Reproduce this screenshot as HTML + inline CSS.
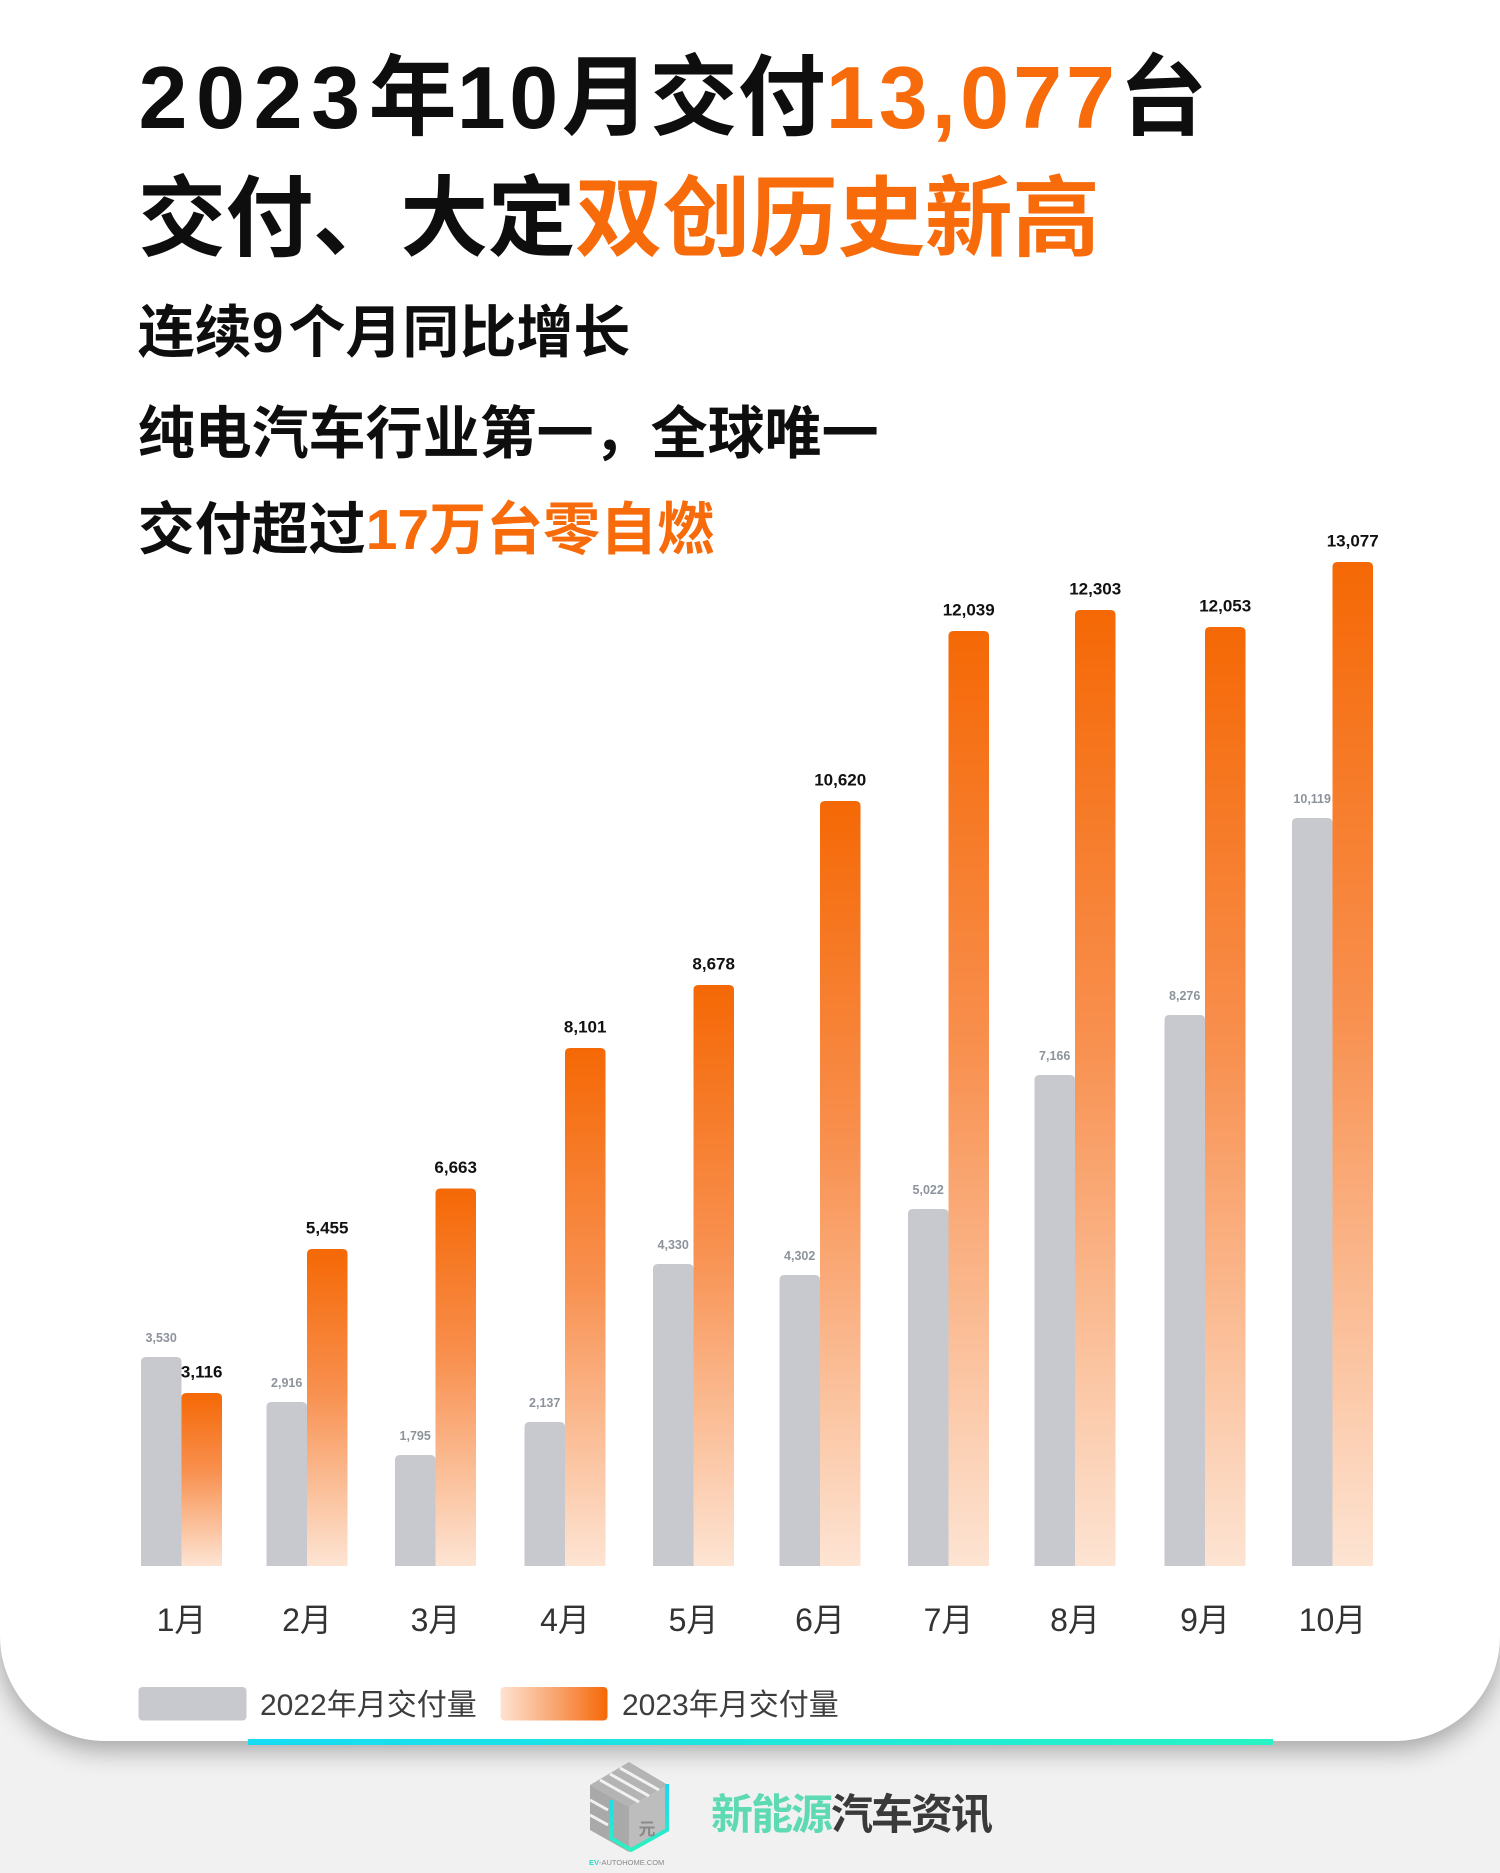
<!DOCTYPE html>
<html>
<head>
<meta charset="utf-8">
<style>
  html,body{margin:0;padding:0;}
  body{width:1500px;height:1873px;background:#f1f1f1;position:relative;overflow:hidden;
       font-family:"Liberation Sans","Noto Sans CJK SC",sans-serif;}
  .card{position:absolute;left:0;top:0;width:1500px;height:1741px;background:#fff;
        border-radius:0 0 105px 105px;box-shadow:0 9px 26px rgba(0,0,0,0.33);}
  .line{position:absolute;white-space:nowrap;font-family:"Liberation Sans","Noto Sans CJK SC",sans-serif;
        font-weight:700;color:#0e0e0e;}
  .l1{left:138.5px;top:53.5px;font-size:88px;line-height:88px;}
  .l2{left:138px;top:174.5px;font-size:88px;line-height:88px;letter-spacing:-0.6px;}
  .l3{left:137.7px;top:304.7px;font-size:57px;line-height:57px;}
  .l4{left:137.7px;top:405.7px;font-size:57px;line-height:57px;}
  .l5{left:137.7px;top:501.7px;font-size:57px;line-height:57px;}
  .o{color:#f76b0b;}
  .bar{position:absolute;left:248px;top:1739px;width:1025px;height:6px;
       background:linear-gradient(90deg,#16dbf3,#27f3c4);}
  svg{position:absolute;left:0;top:0;}
</style>
</head>
<body>
<div class="card"></div>

<div class="line l1"><span style="letter-spacing:8.6px">2023</span>年<span style="letter-spacing:3.6px">10</span>月交付<span class="o" style="letter-spacing:4px">13,077</span>台</div>
<div class="line l2">交付、大定<span class="o">双创历史新高</span></div>
<div class="line l3">连续<span style="letter-spacing:5px">9</span>个月同比增长</div>
<div class="line l4">纯电汽车行业第一，全球唯一</div>
<div class="line l5">交付超过<span class="o">17万台零自燃</span></div>

<div class="bar"></div>

<svg width="1500" height="1873" viewBox="0 0 1500 1873" xmlns="http://www.w3.org/2000/svg">
  <defs>
    <linearGradient id="og" x1="0" y1="0" x2="0" y2="1">
      <stop offset="0" stop-color="#f56805"/>
      <stop offset="0.45" stop-color="#f8904f"/>
      <stop offset="1" stop-color="#fde4d3"/>
    </linearGradient>
    <linearGradient id="lg" x1="0" y1="0" x2="1" y2="0">
      <stop offset="0" stop-color="#fde3d1"/>
      <stop offset="0.55" stop-color="#f9a068"/>
      <stop offset="1" stop-color="#f56805"/>
    </linearGradient>
    <linearGradient id="cg" x1="0" y1="0" x2="0" y2="1">
      <stop offset="0" stop-color="#18d8f4"/>
      <stop offset="1" stop-color="#2ef0c0"/>
    </linearGradient>
  </defs>

  <!-- gray bars (2022) -->
  <g fill="#c8c9ce">
    <path d="M141,1566 V1362 Q141,1357 146,1357 H176.5 Q181.5,1357 181.5,1362 V1566 Z"/>
    <path d="M266.5,1566 V1407 Q266.5,1402 271.5,1402 H302 Q307,1402 307,1407 V1566 Z"/>
    <path d="M395,1566 V1460 Q395,1455 400,1455 H430.5 Q435.5,1455 435.5,1460 V1566 Z"/>
    <path d="M524.5,1566 V1427 Q524.5,1422 529.5,1422 H560 Q565,1422 565,1427 V1566 Z"/>
    <path d="M653,1566 V1269 Q653,1264 658,1264 H688.5 Q693.5,1264 693.5,1269 V1566 Z"/>
    <path d="M779.5,1566 V1280 Q779.5,1275 784.5,1275 H815 Q820,1275 820,1280 V1566 Z"/>
    <path d="M908,1566 V1214 Q908,1209 913,1209 H943.5 Q948.5,1209 948.5,1214 V1566 Z"/>
    <path d="M1034.5,1566 V1080 Q1034.5,1075 1039.5,1075 H1070 Q1075,1075 1075,1080 V1566 Z"/>
    <path d="M1164.5,1566 V1020 Q1164.5,1015 1169.5,1015 H1200 Q1205,1015 1205,1020 V1566 Z"/>
    <path d="M1292,1566 V823 Q1292,818 1297,818 H1327.5 Q1332.5,818 1332.5,823 V1566 Z"/>
  </g>

  <!-- orange bars (2023) -->
  <g fill="url(#og)">
    <path d="M181.5,1566 V1398 Q181.5,1393 186.5,1393 H217 Q222,1393 222,1398 V1566 Z"/>
    <path d="M307,1566 V1254 Q307,1249 312,1249 H342.5 Q347.5,1249 347.5,1254 V1566 Z"/>
    <path d="M435.5,1566 V1193.5 Q435.5,1188.5 440.5,1188.5 H471 Q476,1188.5 476,1193.5 V1566 Z"/>
    <path d="M565,1566 V1053 Q565,1048 570,1048 H600.5 Q605.5,1048 605.5,1053 V1566 Z"/>
    <path d="M693.5,1566 V990 Q693.5,985 698.5,985 H729 Q734,985 734,990 V1566 Z"/>
    <path d="M820,1566 V806 Q820,801 825,801 H855.5 Q860.5,801 860.5,806 V1566 Z"/>
    <path d="M948.5,1566 V636 Q948.5,631 953.5,631 H984 Q989,631 989,636 V1566 Z"/>
    <path d="M1075,1566 V615 Q1075,610 1080,610 H1110.5 Q1115.5,610 1115.5,615 V1566 Z"/>
    <path d="M1205,1566 V632 Q1205,627 1210,627 H1240.5 Q1245.5,627 1245.5,632 V1566 Z"/>
    <path d="M1332.5,1566 V567 Q1332.5,562 1337.5,562 H1368 Q1373,562 1373,567 V1566 Z"/>
  </g>

  <!-- gray value labels -->
  <g font-family="Liberation Sans, sans-serif" font-weight="700" font-size="12.5" fill="#8d939b" text-anchor="middle">
    <text x="161.2" y="1342">3,530</text>
    <text x="286.7" y="1387">2,916</text>
    <text x="415.2" y="1440">1,795</text>
    <text x="544.7" y="1407">2,137</text>
    <text x="673.2" y="1249">4,330</text>
    <text x="799.7" y="1260">4,302</text>
    <text x="928.2" y="1194">5,022</text>
    <text x="1054.7" y="1060">7,166</text>
    <text x="1184.7" y="1000">8,276</text>
    <text x="1312.2" y="803">10,119</text>
  </g>

  <!-- orange value labels -->
  <g font-family="Liberation Sans, sans-serif" font-weight="700" font-size="17" fill="#111" text-anchor="middle">
    <text x="201.7" y="1377.5">3,116</text>
    <text x="327.2" y="1233.5">5,455</text>
    <text x="455.7" y="1173">6,663</text>
    <text x="585.2" y="1032.5">8,101</text>
    <text x="713.7" y="969.5">8,678</text>
    <text x="840.2" y="785.5">10,620</text>
    <text x="968.7" y="615.5">12,039</text>
    <text x="1095.2" y="594.5">12,303</text>
    <text x="1225.2" y="611.5">12,053</text>
    <text x="1352.7" y="546.5">13,077</text>
  </g>

  <!-- month labels -->
  <g font-family="Liberation Sans, Noto Sans CJK SC, sans-serif" font-weight="400" font-size="32" fill="#333" text-anchor="middle">
    <text x="181.5" y="1631">1月</text>
    <text x="307" y="1631">2月</text>
    <text x="435.5" y="1631">3月</text>
    <text x="565" y="1631">4月</text>
    <text x="693.5" y="1631">5月</text>
    <text x="820" y="1631">6月</text>
    <text x="948.5" y="1631">7月</text>
    <text x="1075" y="1631">8月</text>
    <text x="1205" y="1631">9月</text>
    <text x="1332.5" y="1631">10月</text>
  </g>

  <!-- legend -->
  <rect x="138.5" y="1687" width="108" height="33.5" rx="4" fill="#c8c9ce"/>
  <text x="260" y="1715" font-family="Liberation Sans, Noto Sans CJK SC, sans-serif" font-size="30" fill="#3d3d3d">2022年月交付量</text>
  <rect x="500.5" y="1687" width="107" height="33.5" rx="4" fill="url(#lg)"/>
  <text x="622" y="1715" font-family="Liberation Sans, Noto Sans CJK SC, sans-serif" font-size="30" fill="#3d3d3d">2023年月交付量</text>

  <!-- logo icon -->
  <g>
    <polygon points="590,1785 629,1762 668,1785 629,1807" fill="#b4b4b4"/>
    <polygon points="590,1785 629,1807 629,1852 590,1830" fill="#a9a9a9"/>
    <polygon points="629,1807 668,1785 668,1830 629,1852" fill="#bdbdbd"/>
    <g stroke="#f1f1f1" stroke-width="3">
      <line x1="600" y1="1780" x2="639" y2="1802"/>
      <line x1="610" y1="1774" x2="649" y2="1796"/>
      <line x1="620" y1="1768" x2="659" y2="1790"/>
      <line x1="590" y1="1800" x2="608" y2="1810"/>
      <line x1="590" y1="1815" x2="608" y2="1825"/>
    </g>
    <polyline points="611,1800 611,1838 631,1850 667,1830 667,1784" fill="none" stroke="url(#cg)" stroke-width="4"/>
    <text x="647" y="1835" font-family="Liberation Sans, Noto Sans CJK SC, sans-serif" font-size="17" font-weight="700" fill="#8a8a8a" text-anchor="middle">元</text>
  </g>
  <text x="589" y="1865" font-family="Liberation Sans, sans-serif" font-size="7.5" fill="#8a8a8a"><tspan fill="#2fd8c8" font-weight="700">EV</tspan>-AUTOHOME.COM</text>

  <!-- logo text -->
  <text x="711" y="1829" font-family="Liberation Sans, Noto Sans CJK SC, sans-serif" font-size="42" font-weight="700" letter-spacing="-2"><tspan fill="#5ddab3">新能源</tspan><tspan fill="#3a3a3a">汽车资讯</tspan></text>
</svg>
</body>
</html>
